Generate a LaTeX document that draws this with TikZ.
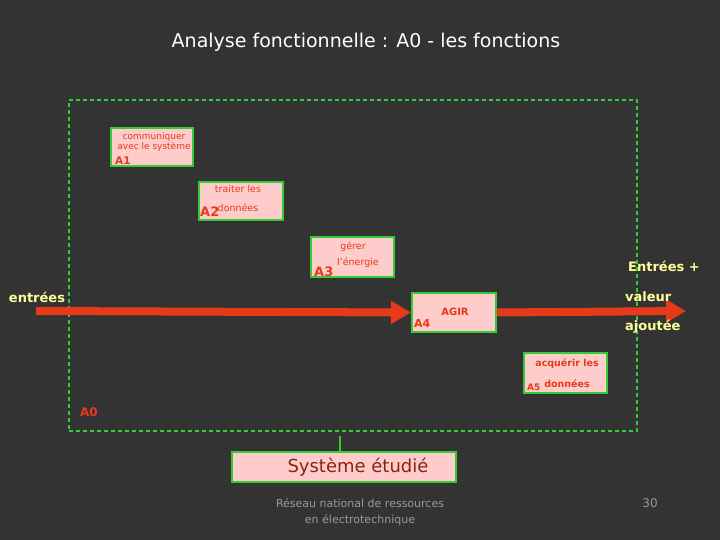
\documentclass[tikz,border=0pt]{standalone}
\usepackage{fontspec}
\setmainfont{DejaVu Sans}
\usetikzlibrary{arrows.meta}
\definecolor{bg}{HTML}{333333}
\definecolor{pk}{HTML}{FFCCCC}
\definecolor{gr}{HTML}{33CC33}
\definecolor{rd}{HTML}{E63A1A}
\definecolor{yl}{HTML}{FFFF99}
\begin{document}
\begin{tikzpicture}[x=1pt,y=-1pt,
 fbox/.style={draw=gr,line width=2pt,fill=pk},
 ft/.style={text=rd,font=\fontsize{9.5}{11}\selectfont,align=center,inner sep=0pt},
 lab/.style={text=rd,font=\bfseries\fontsize{10.5}{12}\selectfont,inner sep=0pt,anchor=south west},
 yt/.style={text=yl,font=\bfseries\fontsize{13}{15}\selectfont,inner sep=0pt}]
\fill[bg] (0,0) rectangle (720,540);
\useasboundingbox (0,0) rectangle (720,540);
\node[text=white,font=\fontsize{19}{22}\selectfont] (title) at (366,42) {Analyse fonctionnelle : A0 - les fonctions};
\node[draw=gr,dash pattern=on 4pt off 3pt,line width=1.5pt,minimum width=568,minimum height=331,inner sep=0pt] (frame) at (353,265.5) {};
% boxes
\node[fbox,minimum width=82,minimum height=38,inner sep=0pt] (b1) at (152,147) {};
\node[ft,font=\fontsize{9}{10.5}\selectfont] at (154,142) {communiquer\\avec le système};
\node[lab] at (115,165) {A1};
\node[fbox,minimum width=84,minimum height=38,inner sep=0pt] (b2) at (241,201) {};
\node[ft] at (238,189) {traiter les};
\node[ft] at (238,208) {données};
\node[lab,font=\bfseries\fontsize{13}{14}\selectfont] at (200,217) {A2};
\node[fbox,minimum width=83,minimum height=40,inner sep=0pt] (b3) at (352.5,257) {};
\node[ft] at (353,247) {gérer};
\node[ft] at (358,263) {l'énergie};
\node[lab,font=\bfseries\fontsize{13}{14}\selectfont] at (314,277) {A3};
\node[fbox,minimum width=84,minimum height=39,inner sep=0pt] (b4) at (454,312.5) {};
\node[ft,font=\bfseries\fontsize{10}{11}\selectfont] at (455,312) {AGIR};
\node[lab,font=\bfseries\fontsize{11}{12}\selectfont] at (414,328) {A4};
\node[fbox,minimum width=83,minimum height=40,inner sep=0pt] (b5) at (565.5,373) {};
\node[ft,font=\bfseries\fontsize{9.5}{11}\selectfont] at (567,364) {acquérir les};
\node[ft,font=\bfseries\fontsize{9.5}{11}\selectfont] at (567,384) {données};
\node[lab,font=\bfseries\fontsize{9}{10}\selectfont] at (527,391) {A5};
% arrows
\coordinate (in) at (36,311);
\coordinate (out) at (686,311);
\draw[rd,line width=8pt,-{Triangle[length=20pt,width=22pt]}] (in) -- (b4.west);
\draw[rd,line width=8pt,-{Triangle[length=20pt,width=22pt]}] (b4.east) -- (out);
\node[yt] (ent) at (37,297) {entrées};
\node[yt] at (664,266) {Entrées +};
\node[yt,anchor=west] at (625,297) {valeur};
\node[yt,anchor=west] at (625,327) {ajoutée};
\node[text=rd,font=\bfseries\fontsize{12}{14}\selectfont] at (89,412) {A0};
% system
\node[fbox,minimum width=224,minimum height=30,inner sep=0pt] (sys) at (344,467) {};
\node[text=rd!60!black,font=\fontsize{18}{21}\selectfont] at (358,467) {Système étudié};
\draw[gr,line width=1.5pt] (sys.north -| 340,0) -- (340,436);
\node[text=gray!80,font=\fontsize{11}{16}\selectfont,align=center] at (360,512) {Réseau national de ressources\\en électrotechnique};
\node[text=gray!80,font=\fontsize{12}{14}\selectfont] at (650,503) {30};
\end{tikzpicture}
\end{document}
